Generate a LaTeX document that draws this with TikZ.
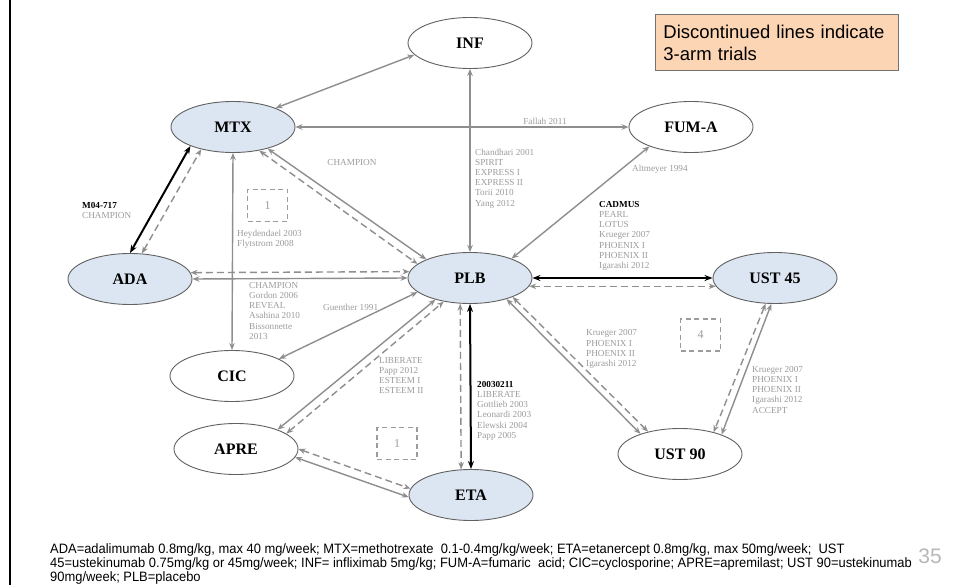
\documentclass[tikz,border=0pt]{standalone}
\usepackage{fontspec}
\setmainfont{Liberation Serif}
\newfontfamily\notesans{Liberation Sans}
\newfontfamily\narrowsans[FakeStretch=0.95]{Liberation Sans}
\usetikzlibrary{shapes.geometric,arrows.meta}

\definecolor{nodeblue}{HTML}{DCE6F2}
\definecolor{edgegray}{HTML}{8E8E8E}
\definecolor{textgray}{HTML}{9C9C9C}
\definecolor{notepeach}{HTML}{FCD5B4}

\begin{document}
\begin{tikzpicture}[x=1pt,y=-1pt,
  drug/.style={ellipse, draw=black!62, line width=0.9pt, minimum width=124pt,
    minimum height=51pt, inner sep=0pt, font=\fontsize{16}{16}\selectfont\bfseries},
  active/.style={drug, fill=nodeblue},
  other/.style={drug, fill=white},
  trial/.style={draw=edgegray, line width=1.4pt,
    {Stealth[length=7pt,width=5.5pt]}-{Stealth[length=7pt,width=5.5pt]}},
  threearm/.style={trial, dash pattern=on 7pt off 4pt},
  headtohead/.style={draw=black, line width=2pt,
    {Stealth[length=8pt,width=6pt]}-{Stealth[length=8pt,width=6pt]}},
  ref/.style={text=textgray, font=\fontsize{9.2}{10.2}\selectfont, align=left,
    anchor=north west, inner sep=0pt},
  countbox/.style={draw=textgray, line width=1.2pt, dash pattern=on 5pt off 3.5pt,
    minimum width=40pt, minimum height=32pt, inner sep=0pt, text=textgray,
    font=\fontsize{12}{12}\selectfont},
]
\useasboundingbox (0,0) rectangle (958,585);
\fill[white] (0,0) rectangle (958,585);
\draw[line width=2.4pt] (10,0) -- (10,585);

% treatments
\node[other]  (INF)  at (470,43)  {INF};
\node[active] (MTX)  at (233,127) {MTX};
\node[other]  (FUM)  at (691,127) {FUM-A};
\node[active] (ADA)  at (130,279) {ADA};
\node[active] (PLB)  at (470,278) {PLB};
\node[active] (U45)  at (775,278) {UST 45};
\node[other]  (CIC)  at (232,376) {CIC};
\node[other]  (APRE) at (236,449) {APRE};
\node[active] (ETA)  at (471,495) {ETA};
\node[other]  (U90)  at (680,454) {UST 90};

% comparisons
\draw[trial] (MTX.24) -- (INF.192);
\draw[trial] (MTX.east) -- (FUM.west);
\draw[trial] (INF.south) -- (PLB.north);
\draw[trial] (FUM.205) -- (PLB.25);
\draw[trial] (MTX.-32) -- (PLB.157);
\draw[threearm] (MTX.-42) -- (PLB.165);
\draw[headtohead] (ADA.north) -- (MTX.204);
\draw[threearm] (ADA.65) -- (MTX.215);
\draw[trial] (MTX.south) -- (CIC.north);
\draw[trial] (ADA.east) -- (PLB.west);
\draw[threearm] (ADA.6) -- (PLB.174);
\draw[trial] (CIC.20) -- (PLB.195);
\draw[trial] (APRE.25) -- (PLB.212);
\draw[threearm] (APRE.17) -- (PLB.222);
\draw[headtohead] (PLB.south) -- (ETA.north);
\draw[threearm] (PLB.249) -- (ETA.111);
\draw[trial] (APRE.-8) -- (ETA.182);
\draw[threearm] (APRE.0) -- (ETA.174);
\draw[headtohead] (PLB.east) -- (U45.west);
\draw[threearm] (PLB.-8) -- (U45.188);
\draw[trial] (PLB.-30) -- (U90.153);
\draw[threearm] (PLB.-24) -- (U90.145);
\draw[trial] (U45.262) -- (U90.25);
\draw[threearm] (U45.250) -- (U90.33);

% number of three-arm trials
\node[countbox] (k1a) at (267.5,205.5) {1};
\node[countbox] (k1b) at (397,443.5) {1};
\node[countbox] (k4)  at (700.5,335) {4};

% trial references
\node[ref, anchor=center] (rFal) at (545,121) {Fallah 2011};
\node[ref] (rInf) at (475,148.5) {Chandhari 2001\\SPIRIT\\EXPRESS I\\EXPRESS II\\Torii 2010\\Yang 2012};
\node[ref] (rAlt) at (632,164.5) {Altmeyer 1994};
\node[ref, anchor=center] (rCh) at (352,163) {CHAMPION};
\node[ref] (rAda) at (82,202) {\textcolor{black}{\bfseries M04-717}\\CHAMPION};
\node[ref] (rCic) at (237,229.5) {Heydendael 2003\\Flytstrom 2008};
\node[ref] (rPlb) at (249,282) {CHAMPION\\Gordon 2006\\REVEAL\\Asahina 2010\\Bissonnette\\2013};
\node[ref] (rGue) at (323,303.5) {Guenther 1991};
\node[ref] (rApr) at (379,357) {LIBERATE\\Papp 2012\\ESTEEM I\\ESTEEM II};
\node[ref] (rEta) at (477,381) {\textcolor{black}{\bfseries 20030211}\\LIBERATE\\Gottlieb 2003\\Leonardi 2003\\Elewski 2004\\Papp 2005};
\node[ref] (rU45) at (599,201) {\textcolor{black}{\bfseries CADMUS}\\PEARL\\LOTUS\\Krueger 2007\\PHOENIX I\\PHOENIX II\\Igarashi 2012};
\node[ref] (rU90) at (586,329.5) {Krueger 2007\\PHOENIX I\\PHOENIX II\\Igarashi 2012};
\node[ref] (rUU) at (752,366) {Krueger 2007\\PHOENIX I\\PHOENIX II\\Igarashi 2012\\ACCEPT};

% note
\node[draw=black!55, line width=0.8pt, fill=notepeach, anchor=north west,
  minimum width=243pt, minimum height=56pt, text width=227pt, inner xsep=8pt,
  align=left, font=\notesans\fontsize{18.5}{22}\selectfont] (note) at (655,14)
  {Discontinued lines indicate\\3-arm trials};

% abbreviations
\node[anchor=north west, inner sep=0pt, align=left,
  font=\narrowsans\fontsize{13.6}{14.4}\selectfont] (abbr) at (50,543)
  {ADA=adalimumab 0.8mg/kg, max 40 mg/week; MTX=methotrexate\ \ 0.1-0.4mg/kg/week; ETA=etanercept 0.8mg/kg, max 50mg/week;\ \ UST\\
   45=ustekinumab 0.75mg/kg or 45mg/week; INF= infliximab 5mg/kg; FUM-A=fumaric\ \ acid; CIC=cyclosporine; APRE=apremilast; UST 90=ustekinumab\\
   90mg/week; PLB=placebo};
\node[anchor=east, inner sep=0pt, text=black!28,
  font=\notesans\fontsize{21}{21}\selectfont] (page) at (942,556) {35};
\end{tikzpicture}
\end{document}
